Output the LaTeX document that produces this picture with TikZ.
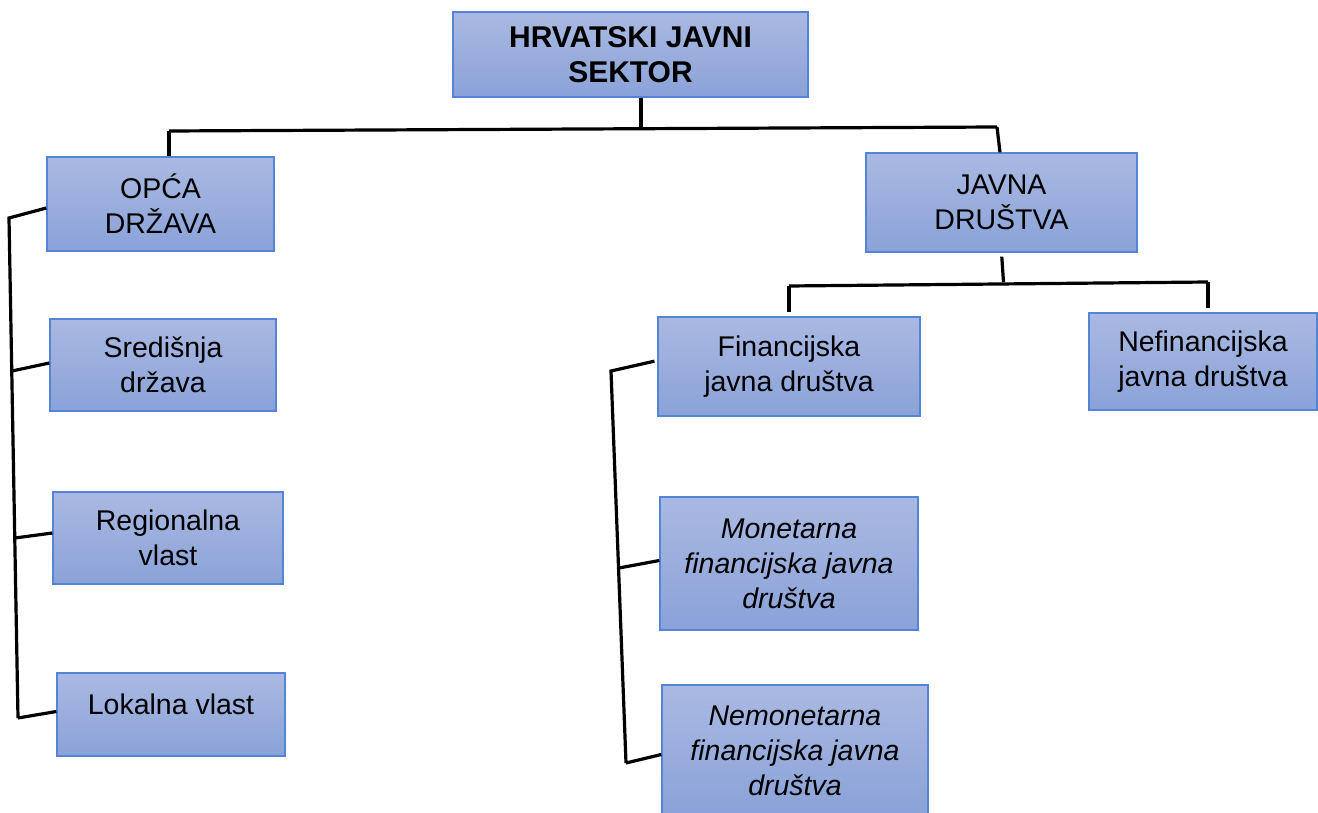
\documentclass[tikz,border=0pt]{standalone}
\usepackage{fontspec}
\setmainfont{Liberation Sans}
\definecolor{boxtop}{RGB}{170,185,226}
\definecolor{boxbot}{RGB}{138,162,216}
\definecolor{boxline}{RGB}{84,132,214}
\begin{document}
\begin{tikzpicture}[x=1pt,y=-1pt,
  box/.style={draw=boxline, line width=1.3pt, top color=boxtop, bottom color=boxbot,
    align=center, inner sep=0pt, text=black, font=\fontsize{28.5}{35}\selectfont},
  conn/.style={line width=3.2pt, black, line join=miter}]
\useasboundingbox (0,0) rectangle (1318,813);
% boxes
\node[box, minimum width=355pt, minimum height=85pt, font=\fontsize{30}{35}\selectfont\bfseries] (top) at (630.5,54.5) {HRVATSKI JAVNI\\SEKTOR};
\node[box, minimum width=227pt, minimum height=94pt] (opca) at (160.5,204) {OPĆA\\DRŽAVA};
\node[box, minimum width=226pt, minimum height=92pt] (sred) at (163,365) {Središnja\\država};
\node[box, minimum width=230pt, minimum height=92pt] (reg) at (168,538) {Regionalna\\vlast};
\node[box, minimum width=228pt, minimum height=83pt, text height=20pt, text depth=20pt] (lok) at (171,714.5) {Lokalna vlast};
\node[box, minimum width=271pt, minimum height=99pt] (jav) at (1001.5,202.5) {JAVNA\\DRUŠTVA};
\node[box, minimum width=262pt, minimum height=99pt] (fin) at (789,366.5) {Financijska\\javna društva};
\node[box, minimum width=228pt, minimum height=97pt] (nef) at (1203,361.5) {Nefinancijska\\javna društva};
\node[box, minimum width=258pt, minimum height=133pt, font=\fontsize{28.5}{35}\selectfont\itshape] (mon) at (789,563.5) {Monetarna\\financijska javna\\društva};
\node[box, minimum width=266pt, minimum height=131pt, font=\fontsize{28.5}{35}\selectfont\itshape] (nem) at (795,750.5) {Nemonetarna\\financijska javna\\društva};
% junction coordinates
\coordinate (hm) at (641,127);
\coordinate (ha) at (169,131);
\coordinate (hb) at (997,127);
\coordinate (jl) at (789,286);
\coordinate (jr) at (1208,282);
\coordinate (l0) at (9,218);
\coordinate (l1) at (12,371);
\coordinate (l2) at (15,538);
\coordinate (l3) at (18,718);
\coordinate (f0) at (611,371);
\coordinate (f1) at (619,568);
\coordinate (f2) at (626,763);
% top level
\draw[conn] (top.south -| hm) -- (hm);
\draw[conn] (ha) -- (hb);
\draw[conn] (ha) -- (ha |- opca.north);
\draw[conn] (hb) -- ([xshift=3pt]hb |- jav.north);
% javna drustva
\draw[conn, shorten <=4pt] (jav.south) -- ([xshift=2pt]jav.south |- jr);
\draw[conn] (jl) -- (jr);
\draw[conn, shorten >=4pt] (jl) -- (jl |- fin.north);
\draw[conn, shorten >=4pt] (jr) -- (jr |- nef.north);
% opca drzava
\draw[conn] ([yshift=-4pt]opca.west) -- (l0) -- (l3);
\draw[conn] (l1) -- ([yshift=2pt]sred.west);
\draw[conn] (l2) -- ([yshift=5pt]reg.west);
\draw[conn] (l3) -- ([yshift=3pt]lok.west);
% financijska
\draw[conn, shorten <=3pt] ([yshift=6pt]fin.west) -- (f0) -- (f2);
\draw[conn] (f1) -- ([yshift=3pt]mon.west);
\draw[conn] (f2) -- ([yshift=-4pt]nem.west);
\end{tikzpicture}
\end{document}
